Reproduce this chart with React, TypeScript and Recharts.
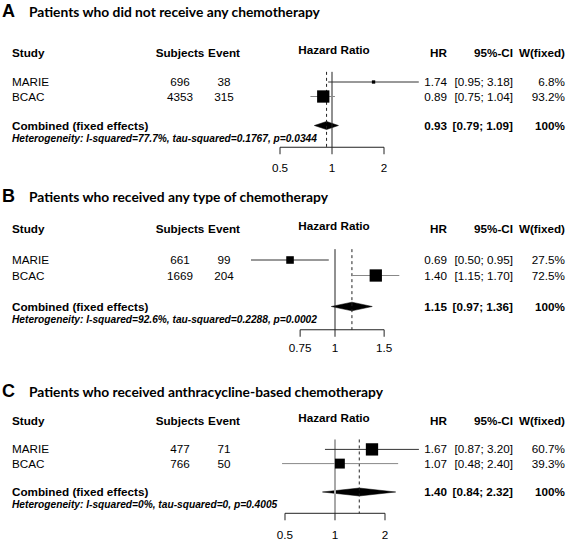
import React from 'react';
import { ComposedChart, XAxis, YAxis, Scatter, Area, ReferenceLine } from 'recharts';

const panelLetters = ['A', 'B', 'C'];
const panelTitles = [
  'Patients who did not receive any chemotherapy',
  'Patients who received any type of chemotherapy',
  'Patients who received anthracycline-based chemotherapy',
];
const studies = ['MARIE', 'BCAC'];
const subjects = [[696, 4353], [661, 1669], [477, 766]];
const events = [[38, 315], [99, 204], [71, 50]];
const hazardRatios = [[1.74, 0.89], [0.69, 1.4], [1.67, 1.07]];
const ciLower = [[0.95, 0.75], [0.5, 1.15], [0.87, 0.48]];
const ciUpper = [[3.18, 1.04], [0.95, 1.7], [3.2, 2.4]];
const weights = [[6.8, 93.2], [27.5, 72.5], [60.7, 39.3]];
const pooledHr = [0.93, 1.15, 1.4];
const pooledLower = [0.79, 0.97, 0.84];
const pooledUpper = [1.09, 1.36, 2.32];
const heterogeneity = [
  'I-squared=77.7%, tau-squared=0.1767, p=0.0344',
  'I-squared=92.6%, tau-squared=0.2288, p=0.0002',
  'I-squared=0%, tau-squared=0, p=0.4005',
];
const axisTicks = [[0.5, 1, 2], [0.75, 1, 1.5], [0.5, 1, 2]];

const FONT = '"Liberation Sans", Arial, sans-serif';
const TITLE_FONT = 'Lato, "Open Sans", sans-serif';
const W = 566;
const PLOT_LEFT = 250;
const PLOT_RIGHT = 420;

// rows of the forest table, in line units below the header
const ROW_STUDY = [2, 3];
const ROW_POOLED = 5;
const ROW_HET = 5.9;
const ROW_LINE_TOP = 1.3;
const ROW_AXIS = 6.5;

const layouts = [
  { top: 0, titleY: 11, y0: 53, lh: 14.5, one: 332, ppd: 52, tickGap: 9, refColor: '#222', refWidth: 1 },
  { top: 180, titleY: 16, y0: 49, lh: 15.5, one: 335, ppd: 84, tickGap: 7, refColor: '#222', refWidth: 1 },
  { top: 360, titleY: 31, y0: 61, lh: 14.2, one: 335, ppd: 50, tickGap: 10, refColor: '#a8a8a8', refWidth: 2 },
];
const ciColors = ['#333', '#888'];

const Txt = ({ x, y, align = 'left', bold = false, italic = false, size = 11.7, font = FONT, children }: any) => {
  const tx = align === 'left' ? '0' : align === 'center' ? '-50%' : '-100%';
  return (
    <div
      style={{
        position: 'absolute',
        left: x,
        top: y,
        transform: `translate(${tx}, -50%)`,
        whiteSpace: 'nowrap',
        fontFamily: font,
        fontSize: size,
        fontWeight: bold ? 700 : 400,
        fontStyle: italic ? 'italic' : 'normal',
        lineHeight: 1,
        color: '#000',
      }}
    >
      {children}
    </div>
  );
};

const fmtCi = (lo: number, hi: number) => `[${lo.toFixed(2)}; ${hi.toFixed(2)}]`;

const Panel = ({ i }: { i: number }) => {
  const L = layouts[i];
  const rowY = (r: number) => L.y0 + r * L.lh;
  const lo = Math.pow(2, -(L.one - PLOT_LEFT) / L.ppd);
  const hi = Math.pow(2, (PLOT_RIGHT - L.one) / L.ppd);
  const chartH = L.y0 + ROW_AXIS * L.lh + 30;
  const maxW = Math.max(...weights[i]);
  const ticks = axisTicks[i];

  const squares = studies.map((s, j) => ({ x: hazardRatios[i][j], y: ROW_STUDY[j], w: weights[i][j] }));
  const diamond = [
    { x: pooledLower[i], band: [ROW_POOLED, ROW_POOLED] },
    { x: pooledHr[i], band: [ROW_POOLED - 0.28, ROW_POOLED + 0.28] },
    { x: pooledUpper[i], band: [ROW_POOLED, ROW_POOLED] },
  ];

  return (
    <div style={{ position: 'absolute', left: 0, top: L.top, width: W, height: 180 }}>
      <div style={{ position: 'absolute', left: 0, top: 0 }}>
        <ComposedChart
          width={W}
          height={chartH}
          margin={{ top: L.y0, right: W - PLOT_RIGHT, bottom: 0, left: PLOT_LEFT }}
        >
          <XAxis
            type="number"
            dataKey="x"
            scale="log"
            domain={[lo, hi]}
            allowDataOverflow
            ticks={ticks}
            interval={0}
            axisLine={false}
            tickLine={{ stroke: '#222' }}
            tickSize={7}
            tickMargin={L.tickGap}
            height={30}
            tick={{ fontSize: 11.7, fill: '#000', fontFamily: FONT }}
          />
          <YAxis type="number" dataKey="y" domain={[0, ROW_AXIS]} allowDataOverflow reversed hide />
          <ReferenceLine
            segment={[{ x: 1, y: ROW_LINE_TOP }, { x: 1, y: ROW_AXIS }]}
            stroke={L.refColor}
            strokeWidth={L.refWidth}
          />
          <ReferenceLine
            segment={[{ x: pooledHr[i], y: ROW_LINE_TOP }, { x: pooledHr[i], y: ROW_AXIS }]}
            stroke="#222"
            strokeDasharray="3 3"
          />
          {studies.map((s, j) => (
            <ReferenceLine
              key={s}
              segment={[{ x: ciLower[i][j], y: ROW_STUDY[j] }, { x: ciUpper[i][j], y: ROW_STUDY[j] }]}
              stroke={ciColors[j]}
            />
          ))}
          <ReferenceLine
            segment={[{ x: ticks[0], y: ROW_AXIS }, { x: ticks[ticks.length - 1], y: ROW_AXIS }]}
            stroke="#222"
          />
          <Area
            data={diamond}
            dataKey="band"
            type="linear"
            stroke="#000"
            strokeWidth={0.5}
            fill="#000"
            fillOpacity={1}
            dot={false}
            activeDot={false}
            isAnimationActive={false}
          />
          <Scatter
            data={squares}
            isAnimationActive={false}
            shape={(p: any) => {
              const side = 12.3 * Math.sqrt(p.payload.w / maxW);
              return <rect x={p.cx - side / 2} y={p.cy - side / 2} width={side} height={side} fill="#000" />;
            }}
          />
        </ComposedChart>
      </div>

      <Txt x={2} y={L.titleY} bold size={18}>{panelLetters[i]}</Txt>
      <Txt x={29} y={L.titleY + 1} bold size={13.8} font={TITLE_FONT}>{panelTitles[i]}</Txt>

      <Txt x={12} y={rowY(0)} bold>Study</Txt>
      <Txt x={180} y={rowY(0)} align="center" bold>Subjects</Txt>
      <Txt x={224} y={rowY(0)} align="center" bold>Event</Txt>
      <Txt x={334} y={rowY(0) - 3} align="center" bold>Hazard Ratio</Txt>
      <Txt x={447} y={rowY(0)} align="right" bold>HR</Txt>
      <Txt x={513} y={rowY(0)} align="right" bold>95%-CI</Txt>
      <Txt x={565} y={rowY(0)} align="right" bold>W(fixed)</Txt>

      {studies.map((s, j) => {
        const y = rowY(ROW_STUDY[j]);
        return (
          <React.Fragment key={s}>
            <Txt x={12} y={y}>{s}</Txt>
            <Txt x={180} y={y} align="center">{subjects[i][j]}</Txt>
            <Txt x={224} y={y} align="center">{events[i][j]}</Txt>
            <Txt x={447} y={y} align="right">{hazardRatios[i][j].toFixed(2)}</Txt>
            <Txt x={513} y={y} align="right">{fmtCi(ciLower[i][j], ciUpper[i][j])}</Txt>
            <Txt x={565} y={y} align="right">{weights[i][j].toFixed(1)}%</Txt>
          </React.Fragment>
        );
      })}

      <Txt x={12} y={rowY(ROW_POOLED)} bold>Combined (fixed effects)</Txt>
      <Txt x={447} y={rowY(ROW_POOLED)} align="right" bold>{pooledHr[i].toFixed(2)}</Txt>
      <Txt x={513} y={rowY(ROW_POOLED)} align="right" bold>{fmtCi(pooledLower[i], pooledUpper[i])}</Txt>
      <Txt x={565} y={rowY(ROW_POOLED)} align="right" bold>100%</Txt>
      <Txt x={12} y={rowY(ROW_HET)} bold italic size={10.2}>Heterogeneity: {heterogeneity[i]}</Txt>
    </div>
  );
};

export default function App() {
  return (
    <div style={{ position: 'relative', width: W, height: 540, background: '#fff', overflow: 'hidden' }}>
      <style>{'body{margin:0}'}</style>
      {panelLetters.map((l, i) => (
        <Panel key={l} i={i} />
      ))}
    </div>
  );
}
